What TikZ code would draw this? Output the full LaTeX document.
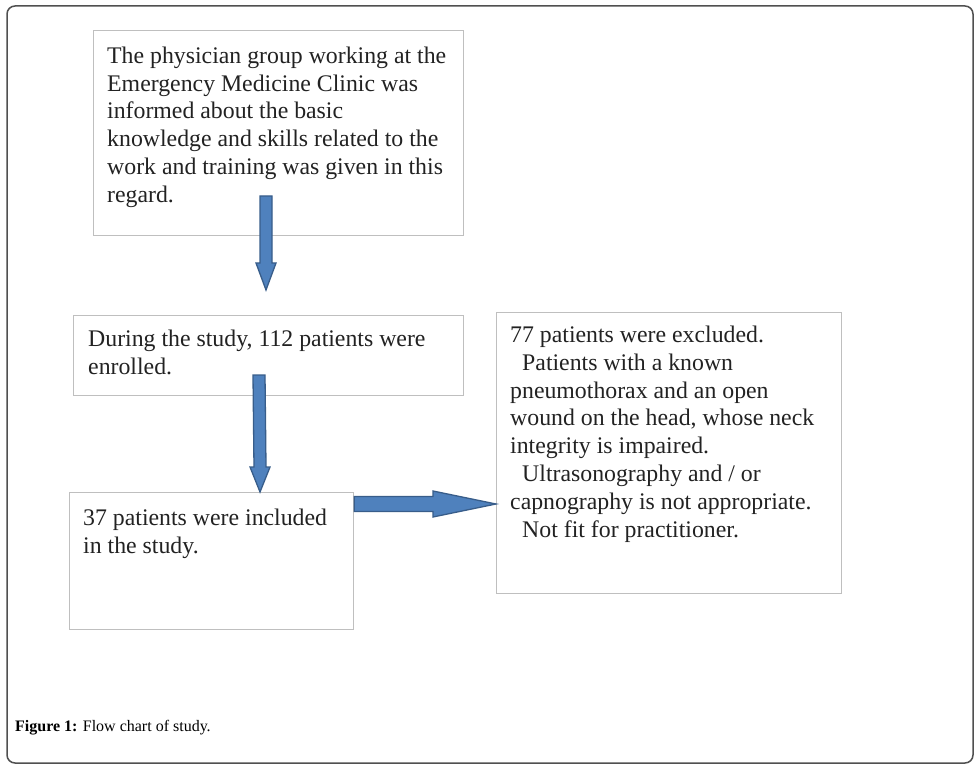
\documentclass[tikz,border=0pt]{standalone}
\usepackage{fontspec}
\setmainfont{Liberation Serif}
\usetikzlibrary{calc}
\definecolor{boxline}{HTML}{BFBFBF}
\definecolor{arrfill}{HTML}{4F81BD}
\definecolor{arrline}{HTML}{385D8A}
\definecolor{frameline}{HTML}{505050}
\definecolor{txt}{HTML}{222222}
\newcommand{\firststrut}{\rule{0pt}{18pt}}
\tikzset{
  flowbox/.style={draw=boxline, line width=1.2pt, rectangle, inner sep=0pt, anchor=north west},
  boxtext/.style={anchor=north west, inner sep=0pt, align=left, text=txt,
    font=\fontsize{23.8}{27.9}\selectfont},
  blockarrow/.style={fill=arrfill, draw=arrline, line width=1.3pt, line join=miter},
}
\begin{document}
\begin{tikzpicture}[x=1pt,y=-1pt]
\useasboundingbox (0,0) rectangle (980,767);
% outer frame
\draw[frameline, line width=1.5pt, rounded corners=8pt] (7,6) rectangle (973,763);

% boxes
\node[flowbox, minimum width=370pt, minimum height=205pt] (b1) at (93,30) {};
\node[flowbox, minimum width=390pt, minimum height=80pt] (b2) at (73,315) {};
\node[flowbox, minimum width=284pt, minimum height=137pt] (b3) at (69,492) {};
\node[flowbox, minimum width=345pt, minimum height=281pt] (b4) at (496,312) {};

% texts (positions = first baseline minus 18)
\node[boxtext] (t1) at (107,45) {\firststrut The physician group working at the\\Emergency Medicine Clinic was\\informed about the basic\\knowledge and skills related to the\\work and training was given in this\\regard.};
\node[boxtext] (t2) at (88,328) {\firststrut During the study, 112 patients were\\enrolled.};
\node[boxtext] (t3) at (83,507) {\firststrut 37 patients were included\\in the study.};
\node[boxtext] (t4) at (510,324) {\firststrut 77 patients were excluded.\\\hspace*{12pt}Patients with a known\\pneumothorax and an open\\wound on the head, whose neck\\integrity is impaired.\\\hspace*{12pt}Ultrasonography and / or\\capnography is not appropriate.\\\hspace*{12pt}Not fit for practitioner.};

% arrow end points
\coordinate (a1s) at (266,196);
\coordinate (a1e) at (266,290);
\coordinate (a2s) at (259,375);
\coordinate (a2e) at (260,492);
\coordinate (a3s) at (b3.east |- 0,504);
\coordinate (a3e) at (b4.west |- 0,504);

% arrow 1 (down)
\draw[blockarrow] ($(a1s)+(-6,0)$) -- ($(a1e)+(-6,-27)$) -- ($(a1e)+(-10,-27)$) -- (a1e)
  -- ($(a1e)+(10,-27)$) -- ($(a1e)+(6,-27)$) -- ($(a1s)+(6,0)$) -- cycle;
% arrow 2 (down)
\draw[blockarrow] ($(a2s)+(-6,0)$) -- ($(a2e)+(-6,-25)$) -- ($(a2e)+(-10,-25)$) -- (a2e)
  -- ($(a2e)+(10,-25)$) -- ($(a2e)+(6,-25)$) -- ($(a2s)+(6,0)$) -- cycle;
% arrow 3 (right)
\draw[blockarrow] ($(a3s)+(0,-7.5)$) -- ($(a3e)+(-63,-7.5)$) -- ($(a3e)+(-63,-13)$) -- (a3e)
  -- ($(a3e)+(-63,13)$) -- ($(a3e)+(-63,7.5)$) -- ($(a3s)+(0,7.5)$) -- cycle;

% caption
\node[anchor=base west, inner sep=0pt, text=black, font=\fontsize{16}{19}\selectfont] (cap) at (15,731) {\textbf{Figure 1:} Flow chart of study.};
\end{tikzpicture}
\end{document}
